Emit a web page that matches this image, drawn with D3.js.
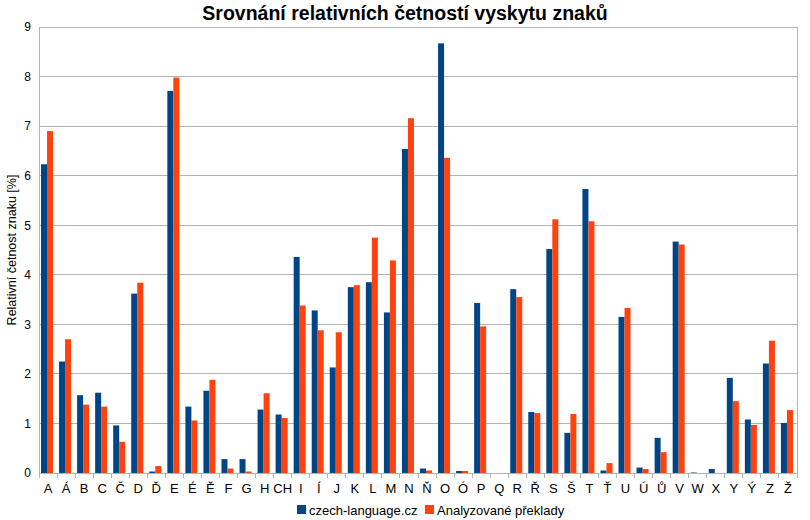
<!DOCTYPE html>
<html>
<head>
<meta charset="utf-8">
<script src="https://cdn.jsdelivr.net/npm/d3@7"></script>
<style>
  body { margin: 0; background: #fff; }
  svg { display: block; font-family: "Liberation Sans", Arial, sans-serif; }
</style>
</head>
<body>
<svg width="810" height="520"></svg>
<script>
  var letters = ['A','Á','B','C','Č','D','Ď','E','É','Ě','F','G','H','CH','I','Í','J','K','L','M',
    'N','Ň','O','Ó','P','Q','R','Ř','S','Š','T','Ť','U','Ú','Ů','V','W','X','Y','Ý','Z','Ž']
  var czechLanguage = [6.23,2.25,1.57,1.62,0.96,3.62,0.03,7.71,1.34,1.66,0.28,0.28,1.28,1.18,4.36,3.28,2.13,3.75,3.85,3.24,
    6.54,0.09,8.67,0.04,3.43,0,3.71,1.23,4.52,0.81,5.73,0.05,3.15,0.11,0.71,4.67,0.01,0.08,1.92,1.08,2.21,1.01]
  var preklady = [6.90,2.70,1.38,1.34,0.63,3.84,0.14,7.98,1.06,1.88,0.09,0.03,1.61,1.11,3.38,2.88,2.84,3.79,4.75,4.29,
    7.16,0.05,6.36,0.04,2.96,0,3.55,1.21,5.12,1.19,5.08,0.20,3.33,0.08,0.42,4.61,0,0,1.45,0.97,2.67,1.27]
  var seriesNames = ['czech-language.cz', 'Analyzované překlady']
  var colors = ['#004586', '#ff420e']
  var yTicks = [0,1,2,3,4,5,6,7,8,9]

  var margin = {top: 27, right: 13, bottom: 47, left: 39}
  var width = 810 - margin.left - margin.right
  var height = 520 - margin.top - margin.bottom

  var svg = d3.select('svg')
  var g = svg.append('g').attr('transform', 'translate(' + margin.left + ',' + margin.top + ')')

  var x = d3.scaleBand().domain(letters).range([0, width])
  var sub = d3.scaleBand().domain([0, 1]).range([2, 14])
  var y = d3.scaleLinear().domain([0, 9]).range([height, 0])

  // grid
  g.selectAll('.grid')
    .data(yTicks)
    .enter().append('line')
    .attr('x1', 0).attr('x2', width)
    .attr('y1', function(d) { return y(d) }).attr('y2', function(d) { return y(d) })
    .attr('stroke', '#b3b3b3').attr('stroke-width', 1)
    .attr('shape-rendering', 'crispEdges')

  // y axis
  var yAxis = g.append('g').call(d3.axisLeft(y).tickValues(yTicks).tickSize(0).tickPadding(8))
  yAxis.select('.domain').attr('stroke', '#b3b3b3')
  yAxis.selectAll('text').attr('font-size', 12).attr('fill', '#000')

  // right border
  g.append('line')
    .attr('x1', width).attr('x2', width).attr('y1', 0).attr('y2', height + 5)
    .attr('stroke', '#b3b3b3').attr('shape-rendering', 'crispEdges')

  // x axis
  var xAxis = g.append('g').attr('transform', 'translate(0,' + height + ')')
    .call(d3.axisBottom(x).tickSize(0).tickPadding(11))
  xAxis.select('.domain').attr('stroke', '#b3b3b3')
  xAxis.selectAll('text').attr('font-size', 13).attr('fill', '#000')
  xAxis.selectAll('.sep')
    .data(letters)
    .enter().append('line')
    .attr('x1', function(d) { return x(d) }).attr('x2', function(d) { return x(d) })
    .attr('y1', 0).attr('y2', 5)
    .attr('stroke', '#b3b3b3').attr('shape-rendering', 'crispEdges')

  // bars
  var series = [czechLanguage, preklady]
  series.forEach(function(vals, i) {
    g.selectAll('.bar' + i)
      .data(vals)
      .enter().append('rect')
      .attr('x', function(d, j) { return x(letters[j]) + sub(i) })
      .attr('width', sub.bandwidth())
      .attr('y', function(d) { return y(d) })
      .attr('height', function(d) { return height - y(d) })
      .attr('fill', colors[i])
  })

  // title
  svg.append('text')
    .attr('x', 405).attr('y', 20)
    .attr('text-anchor', 'middle')
    .attr('font-size', 19.5).attr('font-weight', 'bold')
    .text('Srovnání relativních četností vyskytu znaků')

  // y label
  svg.append('text')
    .attr('transform', 'translate(16,' + (margin.top + height / 2) + ') rotate(-90)')
    .attr('text-anchor', 'middle')
    .attr('font-size', 12.5)
    .text('Relativní četnost znaku [%]')

  // legend
  var legendX = [297, 425]
  var legend = svg.selectAll('.legend')
    .data(seriesNames)
    .enter().append('g')
    .attr('transform', function(d, i) { return 'translate(' + legendX[i] + ',510)' })
  legend.append('rect')
    .attr('x', 0).attr('y', -5).attr('width', 9).attr('height', 9)
    .attr('fill', function(d, i) { return colors[i] })
  legend.append('text')
    .attr('x', 12).attr('y', 4.5)
    .attr('font-size', 13)
    .text(function(d) { return d })
</script>
</body>
</html>
